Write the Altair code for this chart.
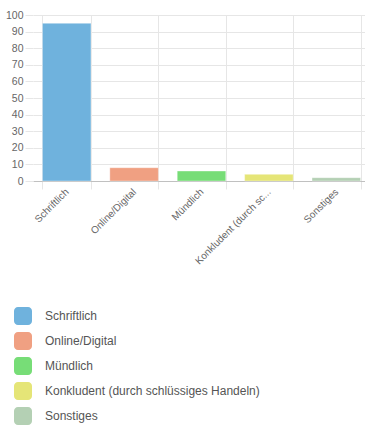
import altair as alt
import pandas as pd

categories = ["Schriftlich", "Online/Digital", "Mündlich",
              "Konkludent (durch schlüssiges Handeln)", "Sonstiges"]
values = [95, 8, 6, 4, 2]
colors = ["#6FB2DD", "#F0A082", "#77DD77", "#E5E577", "#B4D0B4"]
y_ticks = list(range(0, 101, 10))

df = pd.DataFrame({"Kategorie": categories, "Wert": values})

rounded_square = ("M -1 -0.56 A 0.44 0.44 0 0 1 -0.56 -1 L 0.56 -1 "
                  "A 0.44 0.44 0 0 1 1 -0.56 L 1 0.56 "
                  "A 0.44 0.44 0 0 1 0.56 1 L -0.56 1 "
                  "A 0.44 0.44 0 0 1 -1 0.56 Z")

font = "Liberation Sans"
grid_col = "#e6e6e6"

chart = alt.Chart(df).mark_bar(
    stroke="white", strokeOpacity=0.35, strokeWidth=1
).encode(
    x=alt.X(
        "Kategorie:N",
        sort=categories,
        scale=alt.Scale(range=[0, 337], paddingInner=0.28, paddingOuter=0.14),
        axis=alt.Axis(
            title=None,
            labelAngle=-45,
            labelAlign="right",
            labelBaseline="middle",
            labelPadding=1,
            labelExpr="length(datum.label) > 23 ? substring(datum.label, 0, 20) + '...' : datum.label",
            labelFont=font,
            labelFontSize=10,
            labelColor="#666666",
            tickBand="extent",
            tickSize=8,
            tickColor=grid_col,
            grid=True,
            gridColor=grid_col,
            domainColor="#c0c0c0",
            labelLimit=300,
        ),
    ),
    y=alt.Y(
        "Wert:Q",
        scale=alt.Scale(domain=[0, 100], nice=False),
        axis=alt.Axis(
            title=None,
            values=y_ticks,
            labelFont=font,
            labelFontSize=10.5,
            labelColor="#666666",
            tickSize=8,
            tickColor=grid_col,
            labelPadding=2,
            grid=True,
            gridColor=grid_col,
            domain=False,
        ),
    ),
    color=alt.Color(
        "Kategorie:N",
        sort=categories,
        scale=alt.Scale(domain=categories, range=colors),
        legend=alt.Legend(
            title=None,
            orient="none",
            legendX=-19,
            legendY=292,
            direction="vertical",
            symbolType=rounded_square,
            symbolSize=324,
            symbolStrokeWidth=0,
            symbolOpacity=1,
            rowPadding=7,
            labelOffset=13,
            labelFont=font,
            labelFontSize=12,
            labelColor="#555555",
            labelLimit=400,
        ),
    ),
).properties(
    width=332,
    height=166,
    autosize=alt.AutoSizeParams(type="none"),
    padding={"left": 33, "top": 15, "right": 0, "bottom": 244},
).configure_view(stroke=None)

chart.save("out.html", embed_options={"renderer": "svg", "actions": False})
